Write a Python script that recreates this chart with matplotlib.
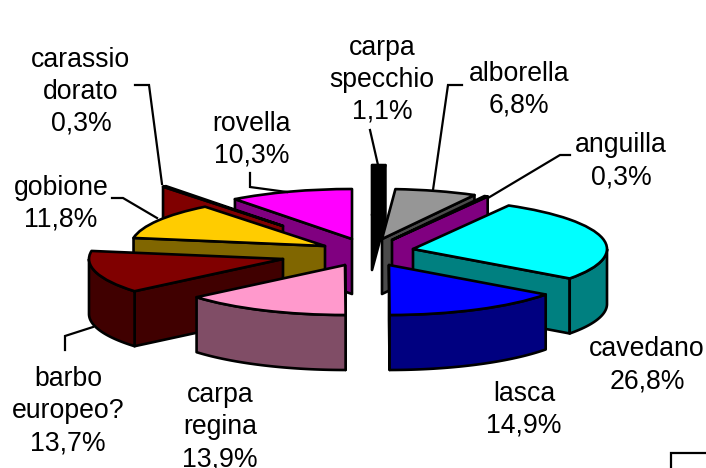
import numpy as np
import matplotlib
matplotlib.use("Agg")
import matplotlib.pyplot as plt
from matplotlib.patches import Wedge, Polygon
from matplotlib.transforms import Affine2D

plt.rcParams['font.family'] = ['Liberation Sans', 'DejaVu Sans']

# data, clockwise from 12 o'clock
names = ["carpa\nspecchio", "alborella", "anguilla", "cavedano", "lasca",
         "carpa\nregina", "barbo\neuropeo?", "gobione", "carassio\ndorato", "rovella"]
values = [1.1, 6.8, 0.3, 26.8, 14.9, 13.9, 13.7, 11.8, 0.3, 10.3]

# styles and layout
top_colors = ["#000000", "#969696", "#FF00FF", "#00FFFF", "#0000FF",
              "#FF99CC", "#800000", "#FFCC00", "#FF0000", "#FF00FF"]
wall_colors = ["#000000", "#4B4B4B", "#800080", "#008080", "#000080",
               "#804D66", "#400000", "#806600", "#800000", "#800080"]
apex = [(372, 215), (382, 239), (392, 240), (413, 249), (389, 265),
        (345, 265), (283, 259), (325, 246), (283, 226), (352, 239)]
label_pos = [(382, 80), (519, 90), (621, 161), (647, 365), (524, 410),
             (220, 427), (68, 411), (61, 204), (81, 92), (252, 140)]
leaders = [[(370, 130), (378, 165)],
           [(462, 85), (448, 85), (433, 190)],
           [(570, 155), (560, 155), (488, 198)],
           None, None, None,
           [(65, 350), (65, 336), (93, 327)],
           [(112, 198), (123, 198), (157, 218)],
           [(135, 85), (149, 85), (162, 184)],
           [(250, 173), (250, 187), (287, 192)]]
draw_order = [9, 8, 7, 6, 5, 0, 1, 2, 3, 4]
RX, RY, DEPTH = 194, 50, 55
LW = 1.9

fig = plt.figure(figsize=(7.06, 4.68), dpi=100)
ax = fig.add_axes([0, 0, 1, 1])
ax.set_xlim(0, 706)
ax.set_ylim(468, 0)
ax.axis("off")

edges = 360 * np.cumsum([0] + values) / sum(values)


def rim(a, c):
    r = np.radians(a)
    return np.column_stack([c[0] + RX * np.sin(r), c[1] - RY * np.cos(r)])


def extrude(points):
    low = points + [0, DEPTH]
    return np.vstack([points, low[::-1]])


for i in draw_order:
    a1, a2 = edges[i], edges[i + 1]
    c = np.array(apex[i], float)
    kw = dict(facecolor=wall_colors[i], edgecolor="black", linewidth=LW, joinstyle="round")
    # visible cut face
    cut = a2 if (a1 + a2) / 2 < 180 else a1
    ax.add_patch(Polygon(extrude(np.vstack([c, rim(np.array([cut]), c)])), closed=True, **kw))
    # outer wall
    lo, hi = max(a1, 90), min(a2, 270)
    if hi > lo:
        ax.add_patch(Polygon(extrude(rim(np.linspace(lo, hi, 60), c)), closed=True, **kw))
    # top
    ax.add_patch(Wedge((0, 0), 1, a1 - 90, a2 - 90, facecolor=top_colors[i], edgecolor="black",
                       linewidth=LW, joinstyle="round",
                       transform=Affine2D().scale(RX, RY).translate(*c) + ax.transData))

for name, v, pos, lead in zip(names, values, label_pos, leaders):
    ax.text(pos[0], pos[1], f"{name}\n{v:.1f}%".replace(".", ","), ha="center", va="center",
            fontsize=19.2, linespacing=1.3, color="black")
    if lead:
        ax.plot(*zip(*lead), color="black", lw=1.6, solid_joinstyle="miter")

ax.plot([706, 671, 671], [453, 453, 468], color="black", lw=1.6, solid_joinstyle="miter")
fig.savefig("out.png", dpi=100)
